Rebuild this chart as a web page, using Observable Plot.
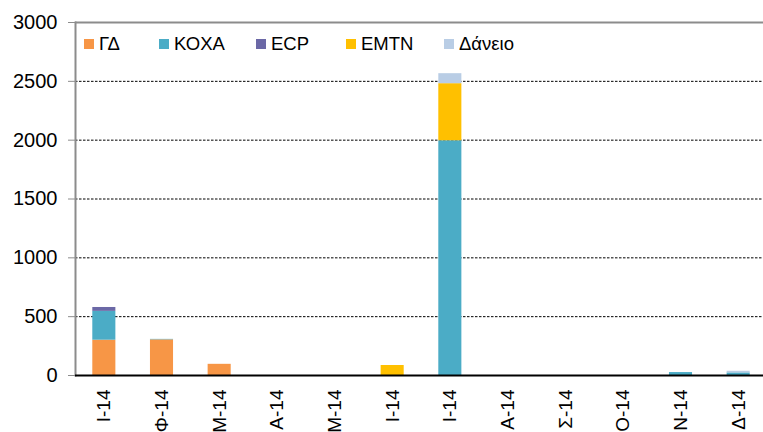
<!DOCTYPE html>
<html>
<head>
<meta charset="utf-8">
<script src="https://cdn.jsdelivr.net/npm/d3@7"></script>
<script src="https://cdn.jsdelivr.net/npm/@observablehq/plot@0.6"></script>
<style>
  html, body { margin: 0; padding: 0; background: #fff; overflow: hidden; }
  #wrap { position: relative; width: 763px; height: 432px; font-family: "Liberation Sans", Arial, sans-serif; }
  #legend { position: absolute; top: 33px; left: 84px; display: flex; font-size: 18.5px; color: #000; }
  .item { display: flex; align-items: center; }
  .sw { width: 10px; height: 10px; margin-right: 5px; }
</style>
</head>
<body>
<div id="wrap"><div id="legend"></div></div>
<script>
const months = ["Ι-14","Φ-14","Μ-14","Α-14","Μ-14","Ι-14","Ι-14","Α-14","Σ-14","Ο-14","Ν-14","Δ-14"];
const seriesNames = ["ΓΔ","ΚΟΧΑ","ECP","EMTN","Δάνειο"];
const colors = ["#F79646","#4BACC6","#6B68A6","#FFC000","#B9CDE5"];
const GD     = [300, 303, 95, 0, 0, 0, 0, 0, 0, 0, 0, 0];
const KOXA   = [245, 4, 0, 0, 0, 0, 1995, 0, 0, 0, 25, 22];
const ECP    = [33, 0, 0, 0, 0, 0, 0, 0, 0, 0, 0, 0];
const EMTN   = [0, 0, 0, 0, 0, 85, 485, 0, 0, 0, 0, 0];
const Daneio = [0, 0, 0, 0, 0, 0, 85, 0, 0, 0, 0, 14];
const yTicks = [0, 500, 1000, 1500, 2000, 2500, 3000];
const gridTicks = [500, 1000, 1500, 2000, 2500];

const seriesValues = [GD, KOXA, ECP, EMTN, Daneio];
const data = [];
seriesNames.forEach((s, si) => {
  seriesValues[si].forEach((v, i) => data.push({idx: i, series: s, value: v}));
});

const font = "Liberation Sans, Arial, sans-serif";
const chart = Plot.plot({
  width: 763,
  height: 432,
  marginLeft: 75,
  marginRight: 0,
  marginTop: 22,
  marginBottom: 57,
  style: {fontFamily: font, fontSize: "20px", color: "#000", background: "#fff"},
  x: {type: "band", domain: d3.range(12), range: [75, 767], paddingInner: 0.6, paddingOuter: 0.3, align: 0.5, round: false, label: null},
  y: {domain: [0, 3000], label: null},
  color: {domain: seriesNames, range: colors},
  marks: [
    Plot.ruleY(gridTicks, {stroke: "#000", strokeWidth: 1, strokeDasharray: "2.5,1.5"}),
    Plot.barY(data, {x: "idx", y: "value", fill: "series", z: "series"}),
    Plot.ruleY([3000], {stroke: "#8c8c8c", strokeWidth: 2}),
    Plot.frame({anchor: "left", stroke: "#8c8c8c", strokeWidth: 2}),
    Plot.ruleY([0], {stroke: "#000", strokeWidth: 2}),
    Plot.axisY({ticks: yTicks, tickSize: 7, tickPadding: 11, stroke: "#8c8c8c", fontSize: 20, tickFormat: d => String(d), label: null}),
    Plot.axisX({tickRotate: -90, tickSize: 0, tickPadding: 14, fontSize: 19, tickFormat: i => months[i], label: null})
  ]
});
document.getElementById("wrap").prepend(chart);
chart.style.position = "absolute";
chart.style.left = "0";
chart.style.top = "0";

const legend = document.getElementById("legend");
const xs = [84, 159, 256, 346, 444];
seriesNames.forEach((s, i) => {
  const it = document.createElement("div");
  it.className = "item";
  it.style.position = "absolute";
  it.style.left = (xs[i] - 84) + "px";
  it.style.whiteSpace = "nowrap";
  it.innerHTML = `<span class="sw" style="background:${colors[i]}"></span><span>${s}</span>`;
  legend.appendChild(it);
});
</script>
</body>
</html>
